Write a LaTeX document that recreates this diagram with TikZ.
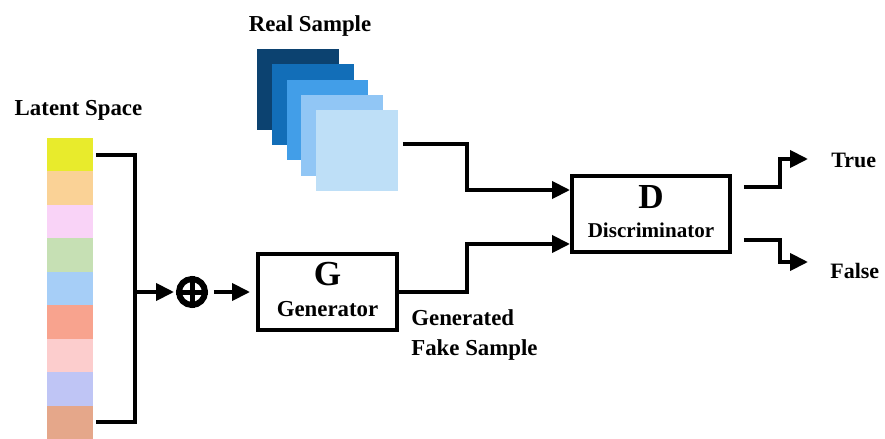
\documentclass[tikz,border=0pt]{standalone}
\usepackage{fontspec}
\setmainfont{Liberation Serif}
\usetikzlibrary{arrows.meta}

% latent space cells
\definecolor{lat1}{HTML}{E8EB2C}
\definecolor{lat2}{HTML}{FAD296}
\definecolor{lat3}{HTML}{F9D3F7}
\definecolor{lat4}{HTML}{C6E0B4}
\definecolor{lat5}{HTML}{A6CEF7}
\definecolor{lat6}{HTML}{F8A38E}
\definecolor{lat7}{HTML}{FCCDCD}
\definecolor{lat8}{HTML}{BFC5F5}
\definecolor{lat9}{HTML}{E5A78A}
% real sample stack
\definecolor{rs1}{HTML}{0C4270}
\definecolor{rs2}{HTML}{126EB8}
\definecolor{rs3}{HTML}{429EE8}
\definecolor{rs4}{HTML}{91C6F5}
\definecolor{rs5}{HTML}{BEDFF7}

\begin{document}
\begin{tikzpicture}[
    x=0.02cm, y=-0.02cm,
    wire/.style={line width=0.08cm},
    arr/.style={wire, -{Triangle[length=0.36cm, width=0.34cm]}},
    cell/.style={minimum width=0.92cm, minimum height=0.669cm, inner sep=0pt, outer sep=0pt},
    sample/.style={minimum width=1.64cm, minimum height=1.62cm, inner sep=0pt, outer sep=0pt},
    block/.style={draw, line width=0.08cm, minimum width=2.78cm, minimum height=1.52cm, inner sep=0pt},
    lbl/.style={font=\bfseries\fontsize{13}{15}\selectfont, inner sep=0pt},
    big/.style={font=\bfseries\fontsize{20}{22}\selectfont, inner sep=0pt},
  ]
    \useasboundingbox (0,0) rectangle (885,439);

    % Latent space column
    \foreach \c [count=\i] in {lat1,lat2,lat3,lat4,lat5,lat6,lat7,lat8,lat9} {
      \node[cell, fill=\c] (c\i) at (70, 121.28+33.45*\i) {};
    }
    \node[lbl, anchor=base] (latlbl) at (78.5,115) {Latent Space};

    % Real samples (stacked)
    \foreach \c [count=\i] in {rs1,rs2,rs3,rs4,rs5} {
      \node[sample, fill=\c] (real\i) at (283.25+14.75*\i, 74.25+15.25*\i) {};
    }
    \node[lbl, anchor=base] (reallbl) at (310,32) {Real Sample};

    % Blocks
    \node[block] (gen) at (327.5,292) {};
    \node[big, anchor=base] (gname) at (327.5,285) {G};
    \node[lbl, anchor=base] (gtext) at (327.5,316) {Generator};

    \node[block, minimum width=3.16cm] (disc) at (651,214) {};
    \node[big, anchor=base] (dname) at (651,208) {D};
    \node[lbl, font=\bfseries\fontsize{12}{14}\selectfont, anchor=base] (dtext) at (651,237) {Discriminator};

    % Concatenation
    \node[circle, draw, line width=0.12cm, minimum size=0.52cm, inner sep=0pt] (oplus) at (192,292) {};
    \draw[line width=0.1cm] (oplus.north) -- (oplus.south) (oplus.west) -- (oplus.east);

    % Labels
    \node[lbl, anchor=base west] (fake1) at (411,325) {Generated};
    \node[lbl, anchor=base west] (fake2) at (411,355) {Fake Sample};
    \node[lbl, anchor=base west, font=\bfseries\fontsize{12.5}{14}\selectfont] (true) at (831,167) {True};
    \node[lbl, anchor=base west, font=\bfseries\fontsize{12.5}{14}\selectfont] (false) at (830,278) {False};

    % Connectors
    \coordinate (join) at (135,292);
    \coordinate (toTrue) at (808,159);
    \coordinate (toFalse) at (808,262);
    \draw[wire] ([xshift=0.06cm]c1.east) -| (join) |- ([xshift=0.06cm]c9.east);
    \draw[arr, shorten >=0.04cm] (join) -- (oplus);
    \draw[arr, shorten <=0.12cm, shorten >=0.12cm] (oplus) -- (gen);
    \draw[arr] ([xshift=0.1cm, yshift=0.13cm]real5.east) -- ++(64,0) |- ([yshift=0.48cm]disc.west);
    \draw[arr] (gen.east) -- ++(68,0) |- ([yshift=-0.6cm]disc.west);
    \draw[arr] ([xshift=0.24cm, yshift=0.54cm]disc.east) -- ++(36,0) |- (toTrue);
    \draw[arr] ([xshift=0.24cm, yshift=-0.52cm]disc.east) -- ++(36,0) |- (toFalse);
  \end{tikzpicture}
\end{document}
